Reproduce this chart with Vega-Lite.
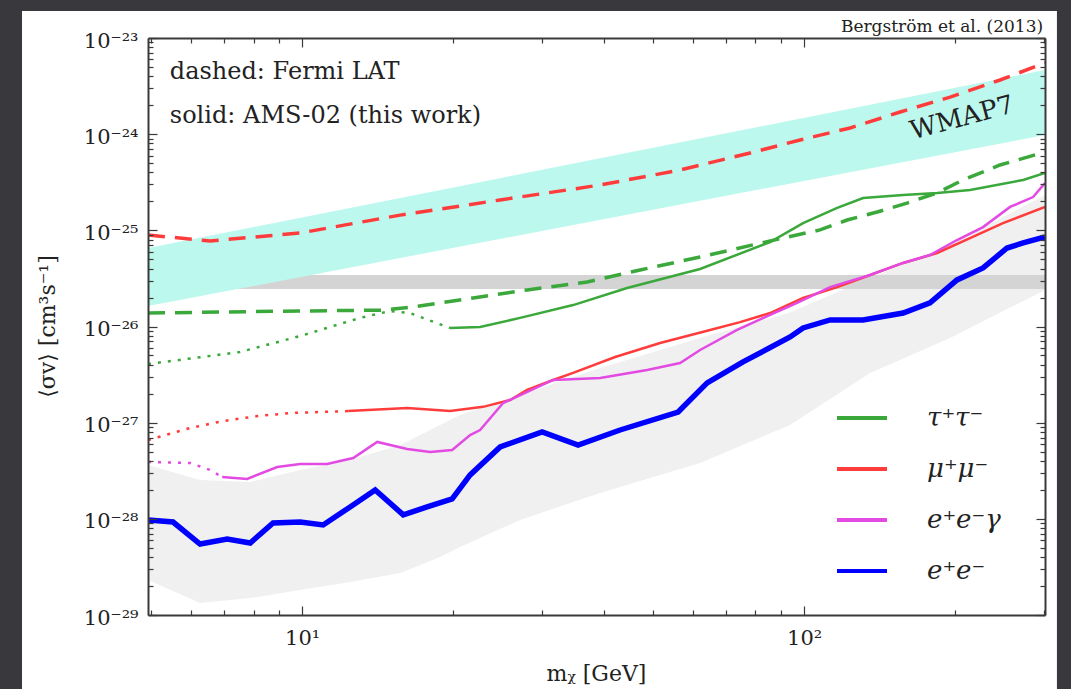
{
  "$schema": "https://vega.github.io/schema/vega-lite/v6.json",
  "width": 897,
  "height": 577,
  "autosize": {"type": "none"},
  "padding": {"left": 148, "top": 38, "right": 26, "bottom": 74},
  "background": "#38383d",
  "config": {"view": {"stroke": null}, "font": "DejaVu Serif"},
  "datasets": {
    "lines": [
      {"ch": "μ⁺μ⁻", "kind": "Fermi", "m": 4.93, "sv": 8.94e-26},
      {"ch": "μ⁺μ⁻", "kind": "Fermi", "m": 6.56, "sv": 7.75e-26},
      {"ch": "μ⁺μ⁻", "kind": "Fermi", "m": 9.91, "sv": 9.38e-26},
      {"ch": "μ⁺μ⁻", "kind": "Fermi", "m": 15.68, "sv": 1.44e-25},
      {"ch": "μ⁺μ⁻", "kind": "Fermi", "m": 24.8, "sv": 2.07e-25},
      {"ch": "μ⁺μ⁻", "kind": "Fermi", "m": 39.24, "sv": 2.96e-25},
      {"ch": "μ⁺μ⁻", "kind": "Fermi", "m": 56.62, "sv": 4.24e-25},
      {"ch": "μ⁺μ⁻", "kind": "Fermi", "m": 78.06, "sv": 6.37e-25},
      {"ch": "μ⁺μ⁻", "kind": "Fermi", "m": 98.18, "sv": 8.7e-25},
      {"ch": "μ⁺μ⁻", "kind": "Fermi", "m": 123.5, "sv": 1.16e-24},
      {"ch": "μ⁺μ⁻", "kind": "Fermi", "m": 155.4, "sv": 1.7e-24},
      {"ch": "μ⁺μ⁻", "kind": "Fermi", "m": 195.4, "sv": 2.43e-24},
      {"ch": "μ⁺μ⁻", "kind": "Fermi", "m": 245.7, "sv": 3.66e-24},
      {"ch": "μ⁺μ⁻", "kind": "Fermi", "m": 302, "sv": 5.5e-24},

      {"ch": "τ⁺τ⁻", "kind": "Fermi", "m": 4.93, "sv": 1.38e-26},
      {"ch": "τ⁺τ⁻", "kind": "Fermi", "m": 9.91, "sv": 1.45e-26},
      {"ch": "τ⁺τ⁻", "kind": "Fermi", "m": 14.5, "sv": 1.48e-26},
      {"ch": "τ⁺τ⁻", "kind": "Fermi", "m": 16.64, "sv": 1.6e-26},
      {"ch": "τ⁺τ⁻", "kind": "Fermi", "m": 21.9, "sv": 1.98e-26},
      {"ch": "τ⁺τ⁻", "kind": "Fermi", "m": 28.07, "sv": 2.4e-26},
      {"ch": "τ⁺τ⁻", "kind": "Fermi", "m": 36.96, "sv": 2.9e-26},
      {"ch": "τ⁺τ⁻", "kind": "Fermi", "m": 47.13, "sv": 3.87e-26},
      {"ch": "τ⁺τ⁻", "kind": "Fermi", "m": 62.06, "sv": 5.28e-26},
      {"ch": "τ⁺τ⁻", "kind": "Fermi", "m": 90.82, "sv": 8.32e-26},
      {"ch": "τ⁺τ⁻", "kind": "Fermi", "m": 107.6, "sv": 1.01e-25},
      {"ch": "τ⁺τ⁻", "kind": "Fermi", "m": 121.8, "sv": 1.28e-25},
      {"ch": "τ⁺τ⁻", "kind": "Fermi", "m": 139.8, "sv": 1.55e-25},
      {"ch": "τ⁺τ⁻", "kind": "Fermi", "m": 160.4, "sv": 1.92e-25},
      {"ch": "τ⁺τ⁻", "kind": "Fermi", "m": 184.1, "sv": 2.45e-25},
      {"ch": "τ⁺τ⁻", "kind": "Fermi", "m": 207.3, "sv": 3.34e-25},
      {"ch": "τ⁺τ⁻", "kind": "Fermi", "m": 245.7, "sv": 4.78e-25},
      {"ch": "τ⁺τ⁻", "kind": "Fermi", "m": 302, "sv": 6.53e-25},

      {"ch": "τ⁺τ⁻", "kind": "AMS", "m": 19.71, "sv": 9.65e-27},
      {"ch": "τ⁺τ⁻", "kind": "AMS", "m": 22.62, "sv": 9.88e-27},
      {"ch": "τ⁺τ⁻", "kind": "AMS", "m": 27.18, "sv": 1.23e-26},
      {"ch": "τ⁺τ⁻", "kind": "AMS", "m": 34.66, "sv": 1.67e-26},
      {"ch": "τ⁺τ⁻", "kind": "AMS", "m": 44.4, "sv": 2.51e-26},
      {"ch": "τ⁺τ⁻", "kind": "AMS", "m": 62.06, "sv": 3.96e-26},
      {"ch": "τ⁺τ⁻", "kind": "AMS", "m": 85.56, "sv": 7.56e-26},
      {"ch": "τ⁺τ⁻", "kind": "AMS", "m": 99.54, "sv": 1.19e-25},
      {"ch": "τ⁺τ⁻", "kind": "AMS", "m": 116.4, "sv": 1.71e-25},
      {"ch": "τ⁺τ⁻", "kind": "AMS", "m": 131.1, "sv": 2.17e-25},
      {"ch": "τ⁺τ⁻", "kind": "AMS", "m": 157.5, "sv": 2.33e-25},
      {"ch": "τ⁺τ⁻", "kind": "AMS", "m": 184.1, "sv": 2.45e-25},
      {"ch": "τ⁺τ⁻", "kind": "AMS", "m": 214.1, "sv": 2.63e-25},
      {"ch": "τ⁺τ⁻", "kind": "AMS", "m": 273.2, "sv": 3.34e-25},
      {"ch": "τ⁺τ⁻", "kind": "AMS", "m": 302, "sv": 3.95e-25},

      {"ch": "τ⁺τ⁻", "kind": "extrap", "m": 4.93, "sv": 4.07e-27},
      {"ch": "τ⁺τ⁻", "kind": "extrap", "m": 7.52, "sv": 5.43e-27},
      {"ch": "τ⁺τ⁻", "kind": "extrap", "m": 9.91, "sv": 7.96e-27},
      {"ch": "τ⁺τ⁻", "kind": "extrap", "m": 13.05, "sv": 1.23e-26},
      {"ch": "τ⁺τ⁻", "kind": "extrap", "m": 14.97, "sv": 1.45e-26},
      {"ch": "τ⁺τ⁻", "kind": "extrap", "m": 16.41, "sv": 1.38e-26},
      {"ch": "τ⁺τ⁻", "kind": "extrap", "m": 19.71, "sv": 9.65e-27},

      {"ch": "μ⁺μ⁻", "kind": "AMS", "m": 12.35, "sv": 1.32e-27},
      {"ch": "μ⁺μ⁻", "kind": "AMS", "m": 16.19, "sv": 1.42e-27},
      {"ch": "μ⁺μ⁻", "kind": "AMS", "m": 19.71, "sv": 1.32e-27},
      {"ch": "μ⁺μ⁻", "kind": "AMS", "m": 22.94, "sv": 1.46e-27},
      {"ch": "μ⁺μ⁻", "kind": "AMS", "m": 25.96, "sv": 1.72e-27},
      {"ch": "μ⁺μ⁻", "kind": "AMS", "m": 28.07, "sv": 2.19e-27},
      {"ch": "μ⁺μ⁻", "kind": "AMS", "m": 31.62, "sv": 2.78e-27},
      {"ch": "μ⁺μ⁻", "kind": "AMS", "m": 34.66, "sv": 3.29e-27},
      {"ch": "μ⁺μ⁻", "kind": "AMS", "m": 42.03, "sv": 4.82e-27},
      {"ch": "μ⁺μ⁻", "kind": "AMS", "m": 51.66, "sv": 6.74e-27},
      {"ch": "μ⁺μ⁻", "kind": "AMS", "m": 64.97, "sv": 9.2e-27},
      {"ch": "μ⁺μ⁻", "kind": "AMS", "m": 74.56, "sv": 1.11e-26},
      {"ch": "μ⁺μ⁻", "kind": "AMS", "m": 85.56, "sv": 1.38e-26},
      {"ch": "μ⁺μ⁻", "kind": "AMS", "m": 99.54, "sv": 1.98e-26},
      {"ch": "μ⁺μ⁻", "kind": "AMS", "m": 116.4, "sv": 2.57e-26},
      {"ch": "μ⁺μ⁻", "kind": "AMS", "m": 135.4, "sv": 3.43e-26},
      {"ch": "μ⁺μ⁻", "kind": "AMS", "m": 157.5, "sv": 4.58e-26},
      {"ch": "μ⁺μ⁻", "kind": "AMS", "m": 184.1, "sv": 5.81e-26},
      {"ch": "μ⁺μ⁻", "kind": "AMS", "m": 214.1, "sv": 8.32e-26},
      {"ch": "μ⁺μ⁻", "kind": "AMS", "m": 249.1, "sv": 1.19e-25},
      {"ch": "μ⁺μ⁻", "kind": "AMS", "m": 302, "sv": 1.75e-25},

      {"ch": "μ⁺μ⁻", "kind": "extrap", "m": 4.93, "sv": 6.6e-28},
      {"ch": "μ⁺μ⁻", "kind": "extrap", "m": 5.98, "sv": 8.8e-28},
      {"ch": "μ⁺μ⁻", "kind": "extrap", "m": 6.96, "sv": 1.04e-27},
      {"ch": "μ⁺μ⁻", "kind": "extrap", "m": 8.14, "sv": 1.17e-27},
      {"ch": "μ⁺μ⁻", "kind": "extrap", "m": 9.46, "sv": 1.26e-27},
      {"ch": "μ⁺μ⁻", "kind": "extrap", "m": 12.35, "sv": 1.32e-27},

      {"ch": "e⁺e⁻γ", "kind": "AMS", "m": 6.93, "sv": 2.72e-28},
      {"ch": "e⁺e⁻γ", "kind": "AMS", "m": 7.77, "sv": 2.6e-28},
      {"ch": "e⁺e⁻γ", "kind": "AMS", "m": 8.92, "sv": 3.46e-28},
      {"ch": "e⁺e⁻γ", "kind": "AMS", "m": 9.91, "sv": 3.72e-28},
      {"ch": "e⁺e⁻γ", "kind": "AMS", "m": 11.21, "sv": 3.72e-28},
      {"ch": "e⁺e⁻γ", "kind": "AMS", "m": 12.64, "sv": 4.29e-28},
      {"ch": "e⁺e⁻γ", "kind": "AMS", "m": 14.11, "sv": 6.3e-28},
      {"ch": "e⁺e⁻γ", "kind": "AMS", "m": 16.19, "sv": 5.32e-28},
      {"ch": "e⁺e⁻γ", "kind": "AMS", "m": 17.99, "sv": 4.96e-28},
      {"ch": "e⁺e⁻γ", "kind": "AMS", "m": 19.9, "sv": 5.2e-28},
      {"ch": "e⁺e⁻γ", "kind": "AMS", "m": 21.61, "sv": 7.44e-28},
      {"ch": "e⁺e⁻γ", "kind": "AMS", "m": 22.62, "sv": 8.39e-28},
      {"ch": "e⁺e⁻γ", "kind": "AMS", "m": 25.14, "sv": 1.6e-27},
      {"ch": "e⁺e⁻γ", "kind": "AMS", "m": 31.62, "sv": 2.78e-27},
      {"ch": "e⁺e⁻γ", "kind": "AMS", "m": 39.24, "sv": 2.91e-27},
      {"ch": "e⁺e⁻γ", "kind": "AMS", "m": 48.68, "sv": 3.53e-27},
      {"ch": "e⁺e⁻γ", "kind": "AMS", "m": 56.62, "sv": 4.17e-27},
      {"ch": "e⁺e⁻γ", "kind": "AMS", "m": 62.06, "sv": 5.7e-27},
      {"ch": "e⁺e⁻γ", "kind": "AMS", "m": 73.54, "sv": 9.2e-27},
      {"ch": "e⁺e⁻γ", "kind": "AMS", "m": 85.56, "sv": 1.32e-26},
      {"ch": "e⁺e⁻γ", "kind": "AMS", "m": 96.85, "sv": 1.76e-26},
      {"ch": "e⁺e⁻γ", "kind": "AMS", "m": 112.7, "sv": 2.57e-26},
      {"ch": "e⁺e⁻γ", "kind": "AMS", "m": 135.4, "sv": 3.43e-26},
      {"ch": "e⁺e⁻γ", "kind": "AMS", "m": 157.5, "sv": 4.58e-26},
      {"ch": "e⁺e⁻γ", "kind": "AMS", "m": 178.2, "sv": 5.54e-26},
      {"ch": "e⁺e⁻γ", "kind": "AMS", "m": 201.7, "sv": 7.93e-26},
      {"ch": "e⁺e⁻γ", "kind": "AMS", "m": 227.3, "sv": 1.08e-25},
      {"ch": "e⁺e⁻γ", "kind": "AMS", "m": 257.3, "sv": 1.75e-25},
      {"ch": "e⁺e⁻γ", "kind": "AMS", "m": 285.9, "sv": 2.22e-25},
      {"ch": "e⁺e⁻γ", "kind": "AMS", "m": 302, "sv": 3.11e-25},

      {"ch": "e⁺e⁻γ", "kind": "extrap", "m": 4.93, "sv": 3.9e-28},
      {"ch": "e⁺e⁻γ", "kind": "extrap", "m": 5.98, "sv": 3.81e-28},
      {"ch": "e⁺e⁻γ", "kind": "extrap", "m": 6.56, "sv": 3.22e-28},
      {"ch": "e⁺e⁻γ", "kind": "extrap", "m": 6.93, "sv": 2.72e-28},

      {"ch": "e⁺e⁻", "kind": "AMS", "m": 4.93, "sv": 9.73e-29},
      {"ch": "e⁺e⁻", "kind": "AMS", "m": 5.53, "sv": 9.27e-29},
      {"ch": "e⁺e⁻", "kind": "AMS", "m": 6.26, "sv": 5.47e-29},
      {"ch": "e⁺e⁻", "kind": "AMS", "m": 7.09, "sv": 6.17e-29},
      {"ch": "e⁺e⁻", "kind": "AMS", "m": 7.88, "sv": 5.61e-29},
      {"ch": "e⁺e⁻", "kind": "AMS", "m": 8.75, "sv": 9.05e-29},
      {"ch": "e⁺e⁻", "kind": "AMS", "m": 9.91, "sv": 9.27e-29},
      {"ch": "e⁺e⁻", "kind": "AMS", "m": 11.01, "sv": 8.63e-29},
      {"ch": "e⁺e⁻", "kind": "AMS", "m": 12.46, "sv": 1.33e-28},
      {"ch": "e⁺e⁻", "kind": "AMS", "m": 13.98, "sv": 2.0e-28},
      {"ch": "e⁺e⁻", "kind": "AMS", "m": 15.9, "sv": 1.1e-28},
      {"ch": "e⁺e⁻", "kind": "AMS", "m": 17.74, "sv": 1.33e-28},
      {"ch": "e⁺e⁻", "kind": "AMS", "m": 19.9, "sv": 1.61e-28},
      {"ch": "e⁺e⁻", "kind": "AMS", "m": 21.61, "sv": 2.86e-28},
      {"ch": "e⁺e⁻", "kind": "AMS", "m": 24.8, "sv": 5.59e-28},
      {"ch": "e⁺e⁻", "kind": "AMS", "m": 30.07, "sv": 8.0e-28},
      {"ch": "e⁺e⁻", "kind": "AMS", "m": 35.46, "sv": 5.86e-28},
      {"ch": "e⁺e⁻", "kind": "AMS", "m": 43.0, "sv": 8.39e-28},
      {"ch": "e⁺e⁻", "kind": "AMS", "m": 56.1, "sv": 1.29e-27},
      {"ch": "e⁺e⁻", "kind": "AMS", "m": 64.1, "sv": 2.59e-27},
      {"ch": "e⁺e⁻", "kind": "AMS", "m": 75.58, "sv": 4.28e-27},
      {"ch": "e⁺e⁻", "kind": "AMS", "m": 93.79, "sv": 7.78e-27},
      {"ch": "e⁺e⁻", "kind": "AMS", "m": 99.54, "sv": 9.65e-27},
      {"ch": "e⁺e⁻", "kind": "AMS", "m": 112.7, "sv": 1.17e-26},
      {"ch": "e⁺e⁻", "kind": "AMS", "m": 131.1, "sv": 1.17e-26},
      {"ch": "e⁺e⁻", "kind": "AMS", "m": 157.5, "sv": 1.38e-26},
      {"ch": "e⁺e⁻", "kind": "AMS", "m": 178.2, "sv": 1.76e-26},
      {"ch": "e⁺e⁻", "kind": "AMS", "m": 201.7, "sv": 3.05e-26},
      {"ch": "e⁺e⁻", "kind": "AMS", "m": 227.3, "sv": 4.06e-26},
      {"ch": "e⁺e⁻", "kind": "AMS", "m": 253.7, "sv": 6.55e-26},
      {"ch": "e⁺e⁻", "kind": "AMS", "m": 273.2, "sv": 7.39e-26},
      {"ch": "e⁺e⁻", "kind": "AMS", "m": 302, "sv": 8.52e-26}
    ],
    "hatch": [
      {"m": 4.93, "lo": 2.31e-29, "hi": 3.63e-28},
      {"m": 6.26, "lo": 1.33e-29, "hi": 2.53e-28},
      {"m": 7.88, "lo": 1.5e-29, "hi": 2.42e-28},
      {"m": 9.91, "lo": 1.82e-29, "hi": 3.22e-28},
      {"m": 12.46, "lo": 2.2e-29, "hi": 4.09e-28},
      {"m": 15.68, "lo": 2.73e-29, "hi": 5.86e-28},
      {"m": 18.83, "lo": 4.01e-29, "hi": 9.46e-28},
      {"m": 20.64, "lo": 5.1e-29, "hi": 1.2e-27},
      {"m": 27.18, "lo": 9.73e-29, "hi": 1.94e-27},
      {"m": 34.2, "lo": 1.46e-28, "hi": 2.91e-27},
      {"m": 39.24, "lo": 1.86e-28, "hi": 3.7e-27},
      {"m": 62.06, "lo": 3.81e-28, "hi": 7.6e-27},
      {"m": 93.79, "lo": 9.46e-28, "hi": 1.4e-26},
      {"m": 135.4, "lo": 3.29e-27, "hi": 3.2e-26},
      {"m": 195.4, "lo": 7.59e-27, "hi": 7.04e-26},
      {"m": 302, "lo": 2.4e-26, "hi": 2.33e-25}
    ]
  },
  "layer": [
    {
      "data": {"values": [{"xa": 2.766, "xb": 319, "ya": 1.909e-23, "yb": 1.701e-30}]},
      "mark": {"type": "rect", "fill": "#ffffff", "clip": false},
      "encoding": {
        "x": {
          "field": "xa", "type": "quantitative",
          "scale": {"type": "log", "domain": [4.93, 302], "nice": false},
          "axis": {
            "orient": "bottom", "zindex": 2,
            "values": [5, 6, 7, 8, 9, 10, 20, 30, 40, 50, 60, 70, 80, 90, 100, 200, 300],
            "labelExpr": "datum.value == 10 ? '10¹' : datum.value == 100 ? '10²' : ''",
            "labelOverlap": false, "labelFlush": false,
            "labelFont": "DejaVu Serif", "labelFontSize": 21, "labelColor": "#222222",
            "labelPadding": 21,
            "grid": false,
            "domainColor": "#3a3a3a", "domainWidth": 2,
            "tickColor": "#3a3a3a", "tickWidth": 1.2,
            "tickSize": {"condition": {"test": "abs(log(datum.value)/LN10 - round(log(datum.value)/LN10)) < 0.01", "value": -9}, "value": -5},
            "title": "mᵪ [GeV]",
            "titleFont": "DejaVu Serif", "titleFontSize": 22, "titleFontWeight": "normal", "titleColor": "#222222",
            "titleX": 448, "titleY": 58, "titleBaseline": "middle", "titleAlign": "center"
          }
        },
        "x2": {"field": "xb"},
        "y": {
          "field": "ya", "type": "quantitative",
          "scale": {"type": "log", "domain": [1e-29, 1e-23], "nice": false},
          "axis": {
            "orient": "left", "zindex": 2,
            "values": [1e-29, 2e-29, 3e-29, 4e-29, 5e-29, 6e-29, 7e-29, 8e-29, 9e-29,
                       1e-28, 2e-28, 3e-28, 4e-28, 5e-28, 6e-28, 7e-28, 8e-28, 9e-28,
                       1e-27, 2e-27, 3e-27, 4e-27, 5e-27, 6e-27, 7e-27, 8e-27, 9e-27,
                       1e-26, 2e-26, 3e-26, 4e-26, 5e-26, 6e-26, 7e-26, 8e-26, 9e-26,
                       1e-25, 2e-25, 3e-25, 4e-25, 5e-25, 6e-25, 7e-25, 8e-25, 9e-25,
                       1e-24, 2e-24, 3e-24, 4e-24, 5e-24, 6e-24, 7e-24, 8e-24, 9e-24, 1e-23],
            "labelExpr": "abs(log(datum.value)/LN10 - round(log(datum.value)/LN10)) < 0.01 ? '10⁻²' + ['⁰','¹','²','³','⁴','⁵','⁶','⁷','⁸','⁹'][-round(log(datum.value)/LN10) - 20] : ''",
            "labelOverlap": false, "labelFlush": false,
            "labelFont": "DejaVu Serif", "labelFontSize": 21, "labelColor": "#222222",
            "labelPadding": 19, "labelOffset": 3,
            "grid": false,
            "domainColor": "#3a3a3a", "domainWidth": 2,
            "tickColor": "#3a3a3a", "tickWidth": 1.2,
            "tickSize": {"condition": {"test": "abs(log(datum.value)/LN10 - round(log(datum.value)/LN10)) < 0.01", "value": -9}, "value": -5},
            "title": "⟨σv⟩ [cm³s⁻¹]",
            "titleFont": "DejaVu Serif", "titleFontSize": 22, "titleFontWeight": "normal", "titleColor": "#222222",
            "titleX": -101, "titleY": 288, "titleBaseline": "middle", "titleAlign": "center", "titleAngle": 270
          }
        },
        "y2": {"field": "yb"}
      }
    },
    {
      "data": {"name": "hatch"},
      "mark": {"type": "area", "color": "#f0f0f0", "clip": true},
      "encoding": {
        "x": {"field": "m", "type": "quantitative", "axis": null},
        "y": {"field": "hi", "type": "quantitative", "axis": null},
        "y2": {"field": "lo"}
      }
    },
    {
      "data": {"values": [{"m": 4.93, "lo": 2.45e-26, "hi": 3.43e-26}, {"m": 302, "lo": 2.45e-26, "hi": 3.43e-26}]},
      "mark": {"type": "area", "color": "#d4d4d4", "clip": true},
      "encoding": {
        "x": {"field": "m", "type": "quantitative", "axis": null},
        "y": {"field": "hi", "type": "quantitative", "axis": null},
        "y2": {"field": "lo"}
      }
    },
    {
      "data": {"values": [{"m": 4.93, "lo": 1.63e-26, "hi": 6.55e-26}, {"m": 302, "lo": 9.8e-25, "hi": 4.65e-24}]},
      "mark": {"type": "area", "color": "#bdf8ee", "clip": true},
      "encoding": {
        "x": {
          "field": "m", "type": "quantitative",
          "axis": {
            "orient": "top", "zindex": 2,
            "values": [5, 6, 7, 8, 9, 10, 20, 30, 40, 50, 60, 70, 80, 90, 100, 200, 300],
            "labels": false, "title": null, "grid": false,
            "domainColor": "#3a3a3a", "domainWidth": 2,
            "tickColor": "#3a3a3a", "tickWidth": 1.2,
            "tickSize": {"condition": {"test": "abs(log(datum.value)/LN10 - round(log(datum.value)/LN10)) < 0.01", "value": -9}, "value": -5}
          }
        },
        "y": {
          "field": "hi", "type": "quantitative",
          "axis": {
            "orient": "right", "zindex": 2,
            "values": [1e-29, 2e-29, 3e-29, 4e-29, 5e-29, 6e-29, 7e-29, 8e-29, 9e-29,
                       1e-28, 2e-28, 3e-28, 4e-28, 5e-28, 6e-28, 7e-28, 8e-28, 9e-28,
                       1e-27, 2e-27, 3e-27, 4e-27, 5e-27, 6e-27, 7e-27, 8e-27, 9e-27,
                       1e-26, 2e-26, 3e-26, 4e-26, 5e-26, 6e-26, 7e-26, 8e-26, 9e-26,
                       1e-25, 2e-25, 3e-25, 4e-25, 5e-25, 6e-25, 7e-25, 8e-25, 9e-25,
                       1e-24, 2e-24, 3e-24, 4e-24, 5e-24, 6e-24, 7e-24, 8e-24, 9e-24, 1e-23],
            "labels": false, "title": null, "grid": false,
            "domainColor": "#3a3a3a", "domainWidth": 2,
            "tickColor": "#3a3a3a", "tickWidth": 1.2,
            "tickSize": {"condition": {"test": "abs(log(datum.value)/LN10 - round(log(datum.value)/LN10)) < 0.01", "value": -9}, "value": -5}
          }
        },
        "y2": {"field": "lo"}
      }
    },
    {
      "data": {"name": "lines"},
      "transform": [{"filter": "datum.kind == 'Fermi'"}],
      "mark": {"type": "line", "strokeWidth": 3.5, "strokeDash": [17, 10], "clip": true},
      "encoding": {
        "x": {"field": "m", "type": "quantitative", "axis": null},
        "y": {"field": "sv", "type": "quantitative", "axis": null},
        "color": {
          "field": "ch", "type": "nominal",
          "scale": {"domain": ["τ⁺τ⁻", "μ⁺μ⁻", "e⁺e⁻γ", "e⁺e⁻"], "range": ["#3aa83a", "#ff3c3c", "#e34ae3", "#0000ff"]},
          "legend": {
            "orient": "none", "legendX": 687, "legendY": 353, "title": null, "padding": 0,
            "symbolType": "stroke", "symbolSize": 2500, "symbolStrokeWidth": 4,
            "labelOffset": 38, "rowPadding": 11,
            "labelFont": "DejaVu Serif", "labelFontStyle": "italic", "labelFontSize": 26, "labelColor": "#222222"
          }
        }
      }
    },
    {
      "data": {"name": "lines"},
      "transform": [{"filter": "datum.kind == 'extrap'"}],
      "mark": {"type": "line", "strokeWidth": 2.5, "strokeDash": [3, 7], "clip": true},
      "encoding": {
        "x": {"field": "m", "type": "quantitative", "axis": null},
        "y": {"field": "sv", "type": "quantitative", "axis": null},
        "color": {"field": "ch", "type": "nominal"}
      }
    },
    {
      "data": {"name": "lines"},
      "transform": [{"filter": "datum.kind == 'AMS' && datum.ch != 'e⁺e⁻'"}],
      "mark": {"type": "line", "strokeWidth": 2.5, "clip": true},
      "encoding": {
        "x": {"field": "m", "type": "quantitative", "axis": null},
        "y": {"field": "sv", "type": "quantitative", "axis": null},
        "color": {"field": "ch", "type": "nominal"}
      }
    },
    {
      "data": {"name": "lines"},
      "transform": [{"filter": "datum.ch == 'e⁺e⁻'"}],
      "mark": {"type": "line", "strokeWidth": 5.5, "clip": true},
      "encoding": {
        "x": {"field": "m", "type": "quantitative", "axis": null},
        "y": {"field": "sv", "type": "quantitative", "axis": null},
        "color": {"field": "ch", "type": "nominal"}
      }
    },
    {
      "data": {"values": [
        {"m": 5.45, "sv": 3.75e-24, "t": "dashed: Fermi LAT"},
        {"m": 5.45, "sv": 1.306e-24, "t": "solid: AMS-02 (this work)"}
      ]},
      "mark": {"type": "text", "align": "left", "baseline": "alphabetic", "font": "DejaVu Serif", "fontSize": 24, "color": "#222222", "clip": false},
      "encoding": {
        "x": {"field": "m", "type": "quantitative", "axis": null},
        "y": {"field": "sv", "type": "quantitative", "axis": null},
        "text": {"field": "t"}
      }
    },
    {
      "data": {"values": [{"m": 206.4, "sv": 1.473e-24, "t": "WMAP7"}]},
      "mark": {"type": "text", "align": "center", "baseline": "middle", "angle": 345, "font": "DejaVu Serif", "fontSize": 26, "color": "#222222", "clip": false},
      "encoding": {
        "x": {"field": "m", "type": "quantitative", "axis": null},
        "y": {"field": "sv", "type": "quantitative", "axis": null},
        "text": {"field": "t"}
      }
    },
    {
      "data": {"values": [{"m": 299.4, "sv": 1.154e-23, "t": "Bergström et al. (2013)"}]},
      "mark": {"type": "text", "align": "right", "baseline": "alphabetic", "font": "DejaVu Serif", "fontSize": 17, "color": "#222222", "clip": false},
      "encoding": {
        "x": {"field": "m", "type": "quantitative", "axis": null},
        "y": {"field": "sv", "type": "quantitative", "axis": null},
        "text": {"field": "t"}
      }
    }
  ],
  "resolve": {"axis": {"x": "independent", "y": "independent"}}
}
